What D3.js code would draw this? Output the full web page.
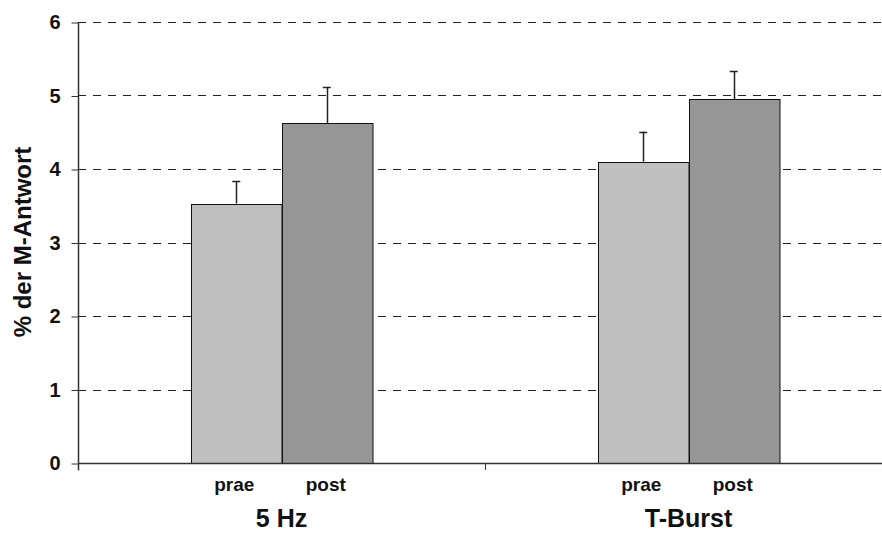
<!DOCTYPE html>
<html>
<head>
<meta charset="utf-8">
<script src="https://cdn.jsdelivr.net/npm/d3@7"></script>
<style>
body { margin: 0; background: #fff; }
text { font-family: "Liberation Sans", Arial, sans-serif; font-weight: bold; }
</style>
</head>
<body>
<div id="chart"></div>
<script>
var groups = ["5 Hz", "T-Burst"];
var phases = ["prae", "post"];
var means = [[3.53, 4.62], [4.10, 4.95]];
var errors = [[0.30, 0.49], [0.41, 0.38]];
var yTicks = [0, 1, 2, 3, 4, 5, 6];
var colors = ["#c0c0c0", "#969696"];

var w = 882, h = 533;
var plotLeft = 78, plotTop = 22, plotBottom = 463;
var bandW = 407;

var svg = d3.select("#chart")
	.append("svg")
	.attr("width", w)
	.attr("height", h);

var xScale = d3.scaleBand()
	.domain(groups)
	.range([plotLeft, plotLeft + bandW * 2]);

var yScale = d3.scaleLinear()
	.domain([0, 6])
	.range([plotBottom, plotTop]);

var barW = 90.5;

// grid lines
svg.append("g")
	.selectAll("line")
	.data(yTicks.filter(function (d) { return d > 0; }))
	.enter()
	.append("line")
	.attr("x1", plotLeft)
	.attr("x2", w)
	.attr("y1", function (d) { return Math.round(yScale(d)) + 0.5; })
	.attr("y2", function (d) { return Math.round(yScale(d)) + 0.5; })
	.attr("stroke", "#222")
	.attr("stroke-dasharray", "8,7");

// bars
var rows = [];
groups.forEach(function (g, gi) {
	phases.forEach(function (p, pi) {
		rows.push({ group: g, phase: p, pi: pi, v: means[gi][pi], e: errors[gi][pi] });
	});
});

function barX(d) {
	var c = xScale(d.group) + xScale.bandwidth() / 2;
	return d.pi == 0 ? c - barW : c;
}

// error bars (upper only)
svg.append("g")
	.selectAll("line")
	.data(rows)
	.enter()
	.append("line")
	.attr("x1", function (d) { return Math.round(barX(d) + barW / 2) + 0.5; })
	.attr("x2", function (d) { return Math.round(barX(d) + barW / 2) + 0.5; })
	.attr("y1", function (d) { return yScale(d.v); })
	.attr("y2", function (d) { return yScale(d.v + d.e); })
	.attr("stroke", "#222")
	.attr("stroke-width", 1.5);

svg.append("g")
	.selectAll("line")
	.data(rows)
	.enter()
	.append("line")
	.attr("x1", function (d) { return barX(d) + barW / 2 - 4; })
	.attr("x2", function (d) { return barX(d) + barW / 2 + 4; })
	.attr("y1", function (d) { return Math.round(yScale(d.v + d.e)) + 0.5; })
	.attr("y2", function (d) { return Math.round(yScale(d.v + d.e)) + 0.5; })
	.attr("stroke", "#222")
	.attr("stroke-width", 1.5);

svg.append("g")
	.selectAll("rect")
	.data(rows)
	.enter()
	.append("rect")
	.attr("x", function (d) { return Math.round(barX(d)) + 0.5; })
	.attr("y", function (d) { return Math.round(yScale(d.v)) + 0.5; })
	.attr("width", barW)
	.attr("height", function (d) { return plotBottom - Math.round(yScale(d.v)); })
	.attr("fill", function (d) { return colors[d.pi]; })
	.attr("stroke", "#111")
	.attr("stroke-width", 1);

// phase labels
svg.append("g")
	.selectAll("text")
	.data(rows)
	.enter()
	.append("text")
	.attr("x", function (d) { return barX(d) + barW / 2 + (d.pi == 0 ? -2 : -1); })
	.attr("y", 491)
	.attr("text-anchor", "middle")
	.attr("font-size", 19)
	.attr("fill", "#111")
	.text(function (d) { return d.phase; });

// group labels
svg.append("g")
	.selectAll("text")
	.data(groups)
	.enter()
	.append("text")
	.attr("x", function (d) { return xScale(d) + xScale.bandwidth() / 2; })
	.attr("y", 527)
	.attr("text-anchor", "middle")
	.attr("font-size", 25)
	.attr("fill", "#111")
	.text(function (d) { return d; });

// y axis
var yAxis = d3.axisLeft(yScale)
	.tickValues(yTicks)
	.tickSize(7)
	.tickPadding(11)
	.tickFormat(d3.format("d"));

var gy = svg.append("g")
	.attr("transform", "translate(" + (plotLeft + 0.5) + ",0.5)")
	.call(yAxis);
gy.select(".domain").attr("stroke", "#333").attr("stroke-width", 1.5).attr("d", "M0," + plotTop + "V" + (plotBottom + 7));
gy.selectAll(".tick line").attr("stroke", "#333");
gy.selectAll(".tick text")
	.attr("font-size", 20)
	.attr("font-family", "Liberation Sans, Arial, sans-serif")
	.attr("font-weight", "bold")
	.attr("fill", "#111");

// x axis baseline
svg.append("line")
	.attr("x1", plotLeft)
	.attr("x2", w)
	.attr("y1", plotBottom + 0.5)
	.attr("y2", plotBottom + 0.5)
	.attr("stroke", "#333")
	.attr("stroke-width", 1.5);

svg.append("line")
	.attr("x1", plotLeft + bandW + 0.5)
	.attr("x2", plotLeft + bandW + 0.5)
	.attr("y1", plotBottom)
	.attr("y2", plotBottom + 7)
	.attr("stroke", "#333");

// y axis title
svg.append("text")
	.attr("transform", "translate(31,242) rotate(-90)")
	.attr("text-anchor", "middle")
	.attr("font-size", 24)
	.attr("fill", "#111")
	.text("% der M-Antwort");
</script>
</body>
</html>
